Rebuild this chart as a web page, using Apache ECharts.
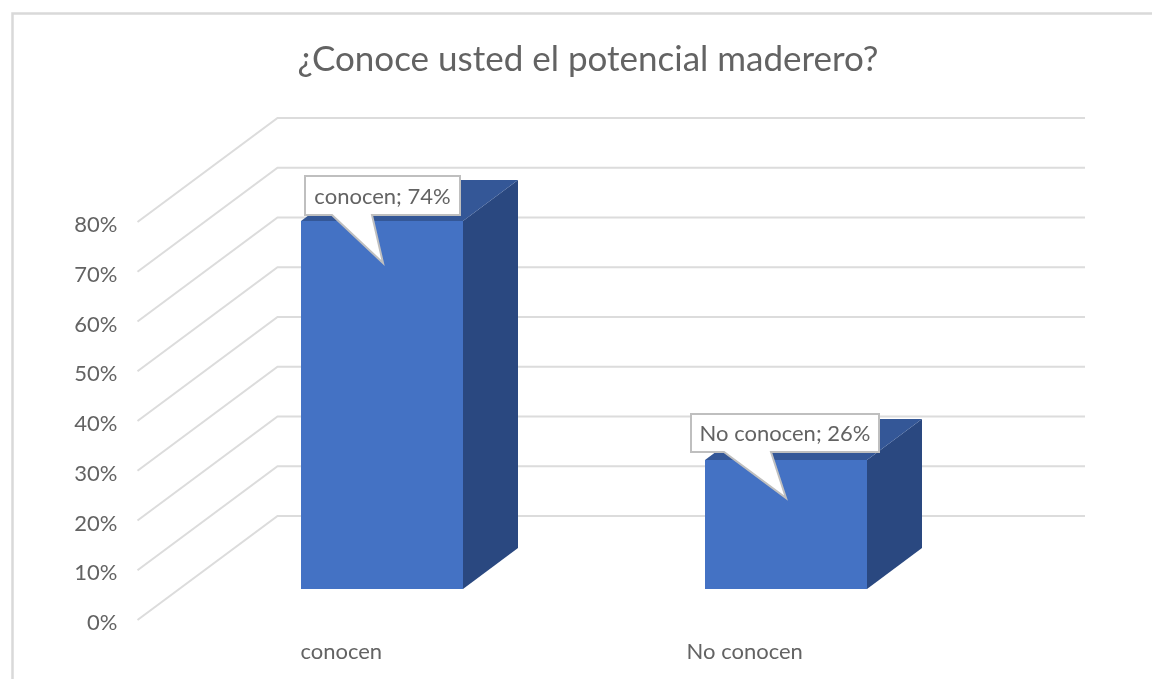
<!DOCTYPE html>
<html><head><meta charset="utf-8">
<style>html,body{margin:0;padding:0;background:#fff}#c{width:1152px;height:679px}</style>
<script src="https://cdn.jsdelivr.net/npm/echarts@6/dist/echarts.min.js"></script>
</head><body><div id="c"></div>
<script>
const chartTitle = '¿Conoce usted el potencial maderero?';
const categories = ['conocen', 'No conocen'];
const values = [0.74, 0.26];
const yTicks = [0, 0.1, 0.2, 0.3, 0.4, 0.5, 0.6, 0.7, 0.8];

const FONT = 'Lato';
const TEXT = '#636363', GRID = '#dcdcdc';
const WALL = {dx: 138, dy: -104, left: -2};   // depth of the floor, px
const BAR = {dx: 41, dy: -31, w: 162, depthX: 55, depthY: -41};
// callout box relative to its pointer tip
const CALLOUT = [
  {tip: 42, l: -78, r: 77, t: -87, b: -48, baseL: -51, baseR: -11},
  {tip: 38, l: -95, r: 93, t: -84, b: -46, baseL: -62, baseR: -15}
];
const pct = v => Math.round(v * 100) + '%';

const chart = echarts.init(document.getElementById('c'), null, {renderer: 'canvas'});
chart.setOption({
  backgroundColor: '#fff',
  animation: false,
  title: {
    text: chartTitle, left: 583, top: 37, textAlign: 'center',
    textStyle: {fontFamily: FONT, fontSize: 35, fontWeight: 'normal', color: TEXT}
  },
  grid: {left: 139.5, width: 807, top: 222, height: 398},
  xAxis: {
    type: 'category', data: categories,
    axisLine: {show: false}, axisTick: {show: false}, splitLine: {show: false},
    axisLabel: {fontFamily: FONT, fontSize: 22, color: TEXT, margin: 21}
  },
  yAxis: {
    type: 'value', min: 0, max: 0.8, interval: 0.1,
    axisLine: {show: false}, axisTick: {show: false}, splitLine: {show: false},
    axisLabel: {fontFamily: FONT, fontSize: 22, color: TEXT, margin: 22, verticalAlign: 'top', lineHeight: 6, formatter: pct}
  },
  graphic: [
    {type: 'polyline', silent: true, z: 0,
     shape: {points: [[12.5, 679], [12.5, 13.5], [1152, 13.5]]},
     style: {fill: null, stroke: '#d9d9d9', lineWidth: 2.5}}
  ],
  series: [
    { // floor and back-wall gridlines
      type: 'custom', z: 1, silent: true, clip: false,
      data: yTicks.map(v => [0, v]),
      encode: {x: 0, y: 1},
      renderItem(params, api) {
        const y = api.coord([0, api.value(1)])[1];
        const x0 = params.coordSys.x + WALL.left;
        const x1 = x0 + WALL.dx + 2;
        const xEnd = params.coordSys.x + params.coordSys.width + WALL.dx + 0.5;
        return {type: 'polyline', shape: {points: [[x0, y], [x1, y + WALL.dy], [xEnd, y + WALL.dy]]},
                style: {fill: null, stroke: GRID, lineWidth: 2}};
      }
    },
    { // 3D bars
      type: 'custom', z: 2, silent: true, clip: false,
      data: values.map((v, i) => [i, v]),
      encode: {x: 0, y: 1},
      renderItem(params, api) {
        const top = api.coord([api.value(0), api.value(1)]);
        const base = api.coord([api.value(0), 0]);
        const xl = Math.round(top[0] + BAR.dx - BAR.w / 2), xr = xl + BAR.w;
        const yt = Math.round(top[1] + BAR.dy), yb = Math.round(base[1] + BAR.dy);
        const dx = BAR.depthX, dy = BAR.depthY;
        return {type: 'group', children: [
          {type: 'polygon', shape: {points: [[xr, yt], [xr + dx, yt + dy], [xr + dx, yb + dy], [xr, yb]]}, style: {fill: '#2a4880'}},
          {type: 'polygon', shape: {points: [[xl, yt], [xr, yt], [xr + dx, yt + dy], [xl + dx, yt + dy]]}, style: {fill: '#345797'}},
          {type: 'rect', shape: {x: xl, y: yt, width: BAR.w, height: yb - yt}, style: {fill: '#4472c4'}}
        ]};
      }
    },
    { // callouts
      type: 'custom', z: 3, silent: true, clip: false,
      data: values.map((v, i) => [i, v]),
      encode: {x: 0, y: 1},
      renderItem(params, api) {
        const i = api.value(0), c = CALLOUT[i];
        const top = api.coord([i, api.value(1)]);
        const tx = Math.round(top[0] + BAR.dx + 0.5), ty = Math.round(top[1] + BAR.dy) + c.tip;
        const pts = [[tx + c.l, ty + c.t], [tx + c.r, ty + c.t], [tx + c.r, ty + c.b], [tx + c.baseR, ty + c.b],
                     [tx, ty], [tx + c.baseL, ty + c.b], [tx + c.l, ty + c.b]];
        return {type: 'group', children: [
          {type: 'polygon', shape: {points: pts}, style: {fill: '#fff', stroke: '#bfbfbf', lineWidth: 2}},
          {type: 'text', style: {
            x: tx + (c.l + c.r) / 2, y: ty + (c.t + c.b) / 2 + 1,
            text: categories[i] + '; ' + pct(api.value(1)),
            align: 'center', verticalAlign: 'middle',
            font: '22px ' + FONT, fill: TEXT}}
        ]};
      }
    }
  ]
});
</script></body></html>
